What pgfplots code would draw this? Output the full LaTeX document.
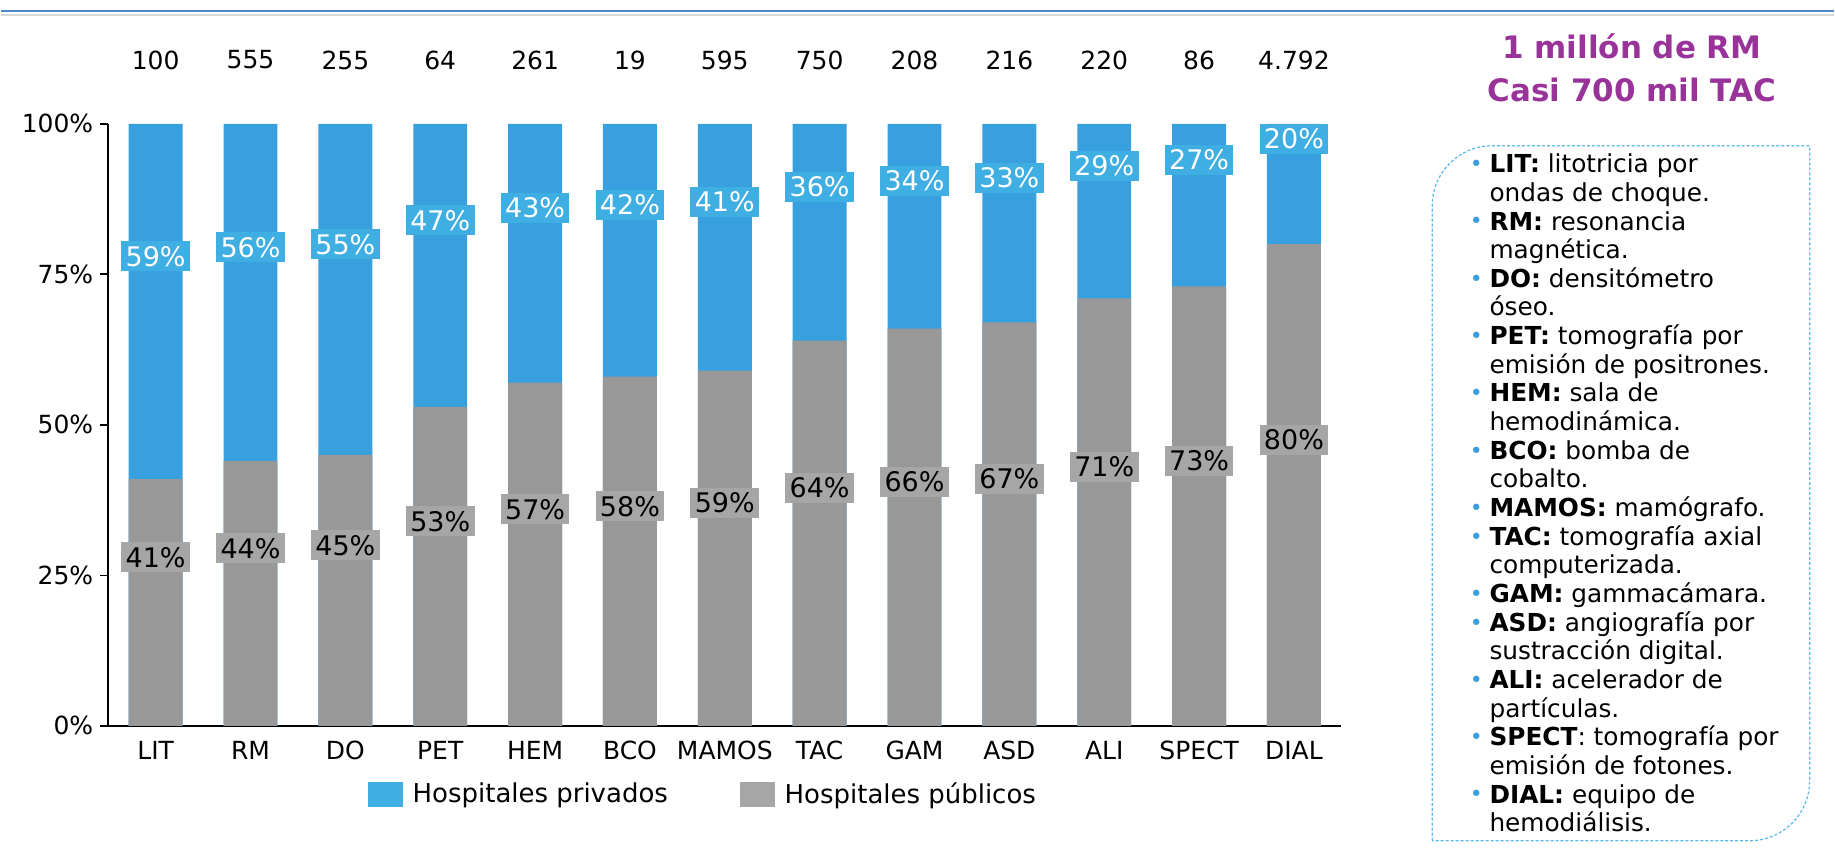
\documentclass[border=0pt]{standalone}
\usepackage{fontspec}
\setmainfont{DejaVu Sans}
\usepackage{pgfplots}
\pgfplotsset{compat=1.18}
\usepackage{pgfplotstable}

\definecolor{barblue}{HTML}{38A0DF}
\definecolor{bargray}{HTML}{989898}
\definecolor{lblblue}{HTML}{3FAEE2}
\definecolor{lblgray}{HTML}{A6A6A6}
\definecolor{titlepurple}{HTML}{993399}
\definecolor{boxblue}{HTML}{5AB7E8}
\definecolor{dotblue}{HTML}{3A9EDD}
\definecolor{topline}{HTML}{5088C8}

% share of public / private hospitals, and number of units
\pgfplotstableread{
x pub priv n
0 41 59 100
1 44 56 555
2 45 55 255
3 53 47 64
4 57 43 261
5 58 42 19
6 59 41 595
7 64 36 750
8 66 34 208
9 67 33 216
10 71 29 220
11 73 27 86
12 80 20 4792
}\equipos

\newcommand{\B}{\makebox[9pt][l]{\hspace{-0.8pt}\textcolor{dotblue}{\fontsize{11}{11}\selectfont\raisebox{0.6pt}{•}}}}

\begin{document}
\begin{tikzpicture}
% picture frame in pixel units of the reference (origin top left)
\begin{scope}[x=0.5pt,y=-0.5pt,yshift=427pt]
  \path (0,0) rectangle (1835,854);
  \draw[topline, line width=1.4pt] (0,11) -- (1835,11);
  \draw[black!15, line width=1.3pt] (0,15) -- (1835,15);
  \node[font=\bfseries\fontsize{15.5}{21.5}\selectfont, text=titlepurple, align=center]
    at (1633,68) {1 millón de RM\\Casi 700 mil TAC};
  \draw[boxblue, line width=0.6pt, dash pattern=on 1.5pt off 1pt]
    (1433,842) -- (1433,206) arc[start angle=180, end angle=270, radius=60]
    -- (1811,146) -- (1811,782) arc[start angle=0, end angle=90, radius=60] -- cycle;
  \node[anchor=base west, inner sep=0pt, font=\fontsize{12.4}{14.35}\selectfont] at (1472,173) {%
    \begin{tabular}[t]{@{}l@{}l@{}}
    \B & \textbf{LIT:} litotricia por\\
       & ondas de choque.\\
    \B & \textbf{RM:} resonancia\\
       & magnética.\\
    \B & \textbf{DO:} densitómetro\\
       & óseo.\\
    \B & \textbf{PET:} tomografía por\\
       & emisión de positrones.\\
    \B & \textbf{HEM:} sala de\\
       & hemodinámica.\\
    \B & \textbf{BCO:} bomba de\\
       & cobalto.\\
    \B & \textbf{MAMOS:} mamógrafo.\\
    \B & \textbf{TAC:} tomografía axial\\
       & computerizada.\\
    \B & \textbf{GAM:} gammacámara.\\
    \B & \textbf{ASD:} angiografía por\\
       & sustracción digital.\\
    \B & \textbf{ALI:} acelerador de\\
       & partículas.\\
    \B & \textbf{SPECT}: tomografía por\\
       & emisión de fotones.\\
    \B & \textbf{DIAL:} equipo de\\
       & hemodiálisis.
    \end{tabular}};
\end{scope}

\begin{axis}[
  at={(53.5pt,63.5pt)}, anchor=south west,
  scale only axis, width=617.5pt, height=301.5pt,
  xmin=-0.5, xmax=12.5, ymin=0, ymax=100,
  axis x line*=bottom, axis y line*=left,
  axis line style={line width=0.85pt, black},
  xtick={0,...,12},
  xticklabels={LIT,RM,DO,PET,HEM,BCO,MAMOS,TAC,GAM,ASD,ALI,SPECT,DIAL},
  ytick={0,25,50,75,100},
  yticklabels={0\%,25\%,50\%,75\%,100\%},
  xtick style={draw=none},
  ytick style={line width=0.85pt, black},
  tick align=outside, major tick length=4pt,
  ticklabel style={font=\fontsize{12.5}{15}\selectfont},
  /pgf/number format/assume math mode=true,
  clip=false,
  legend columns=2,
  legend style={draw=none, at={(0.483,-0.114)}, anchor=center,
    font=\fontsize{13}{15}\selectfont,
    /tikz/every even column/.append style={column sep=34pt}},
]
\addplot[ybar, bar width=27pt, bar shift=0pt, fill=barblue, draw=none,
  legend image code/.code={\fill[lblblue] (-5pt,-6.5pt) rectangle (12.5pt,6.5pt); \path (15.5pt,0pt);}]
  table[x=x, y expr=\thisrow{pub}+\thisrow{priv}] {\equipos};
\addlegendentry{Hospitales privados}
\addplot[ybar, bar width=27pt, bar shift=0pt, fill=bargray, draw=none,
  legend image code/.code={\fill[lblgray] (-5pt,-6.5pt) rectangle (12.5pt,6.5pt); \path (15.5pt,0pt);}]
  table[x=x, y=pub] {\equipos};
\addlegendentry{Hospitales públicos}

% data labels
\addplot[draw=none, mark=none, forget plot, point meta=\thisrow{pub},
  nodes near coords={\pgfmathprintnumber{\pgfplotspointmeta}\%},
  every node near coord/.style={anchor=center, fill=lblgray, text=black,
    font=\fontsize{13.5}{16}\selectfont, inner xsep=2.2pt, inner ysep=2.6pt,
    text height=9.9pt, text depth=0pt}]
  table[x=x, y expr=\thisrow{pub}/2+7.5] {\equipos};
\addplot[draw=none, mark=none, forget plot, point meta=\thisrow{priv},
  nodes near coords={\pgfmathprintnumber{\pgfplotspointmeta}\%},
  every node near coord/.style={anchor=center, fill=lblblue, text=white,
    font=\fontsize{13.5}{16}\selectfont, inner xsep=2.2pt, inner ysep=2.6pt,
    text height=9.9pt, text depth=0pt}]
  table[x=x, y expr=\thisrow{pub}+\thisrow{priv}/2+7.5] {\equipos};
% unit counts above the bars
\addplot[draw=none, mark=none, forget plot, point meta=\thisrow{n},
  nodes near coords={\pgfmathprintnumber[fixed, precision=0, 1000 sep={.}]{\pgfplotspointmeta}},
  every node near coord/.style={anchor=center, text=black,
    font=\fontsize{12.5}{15}\selectfont}]
  table[x=x, y expr=110.6] {\equipos};
\end{axis}
\end{tikzpicture}
\end{document}
